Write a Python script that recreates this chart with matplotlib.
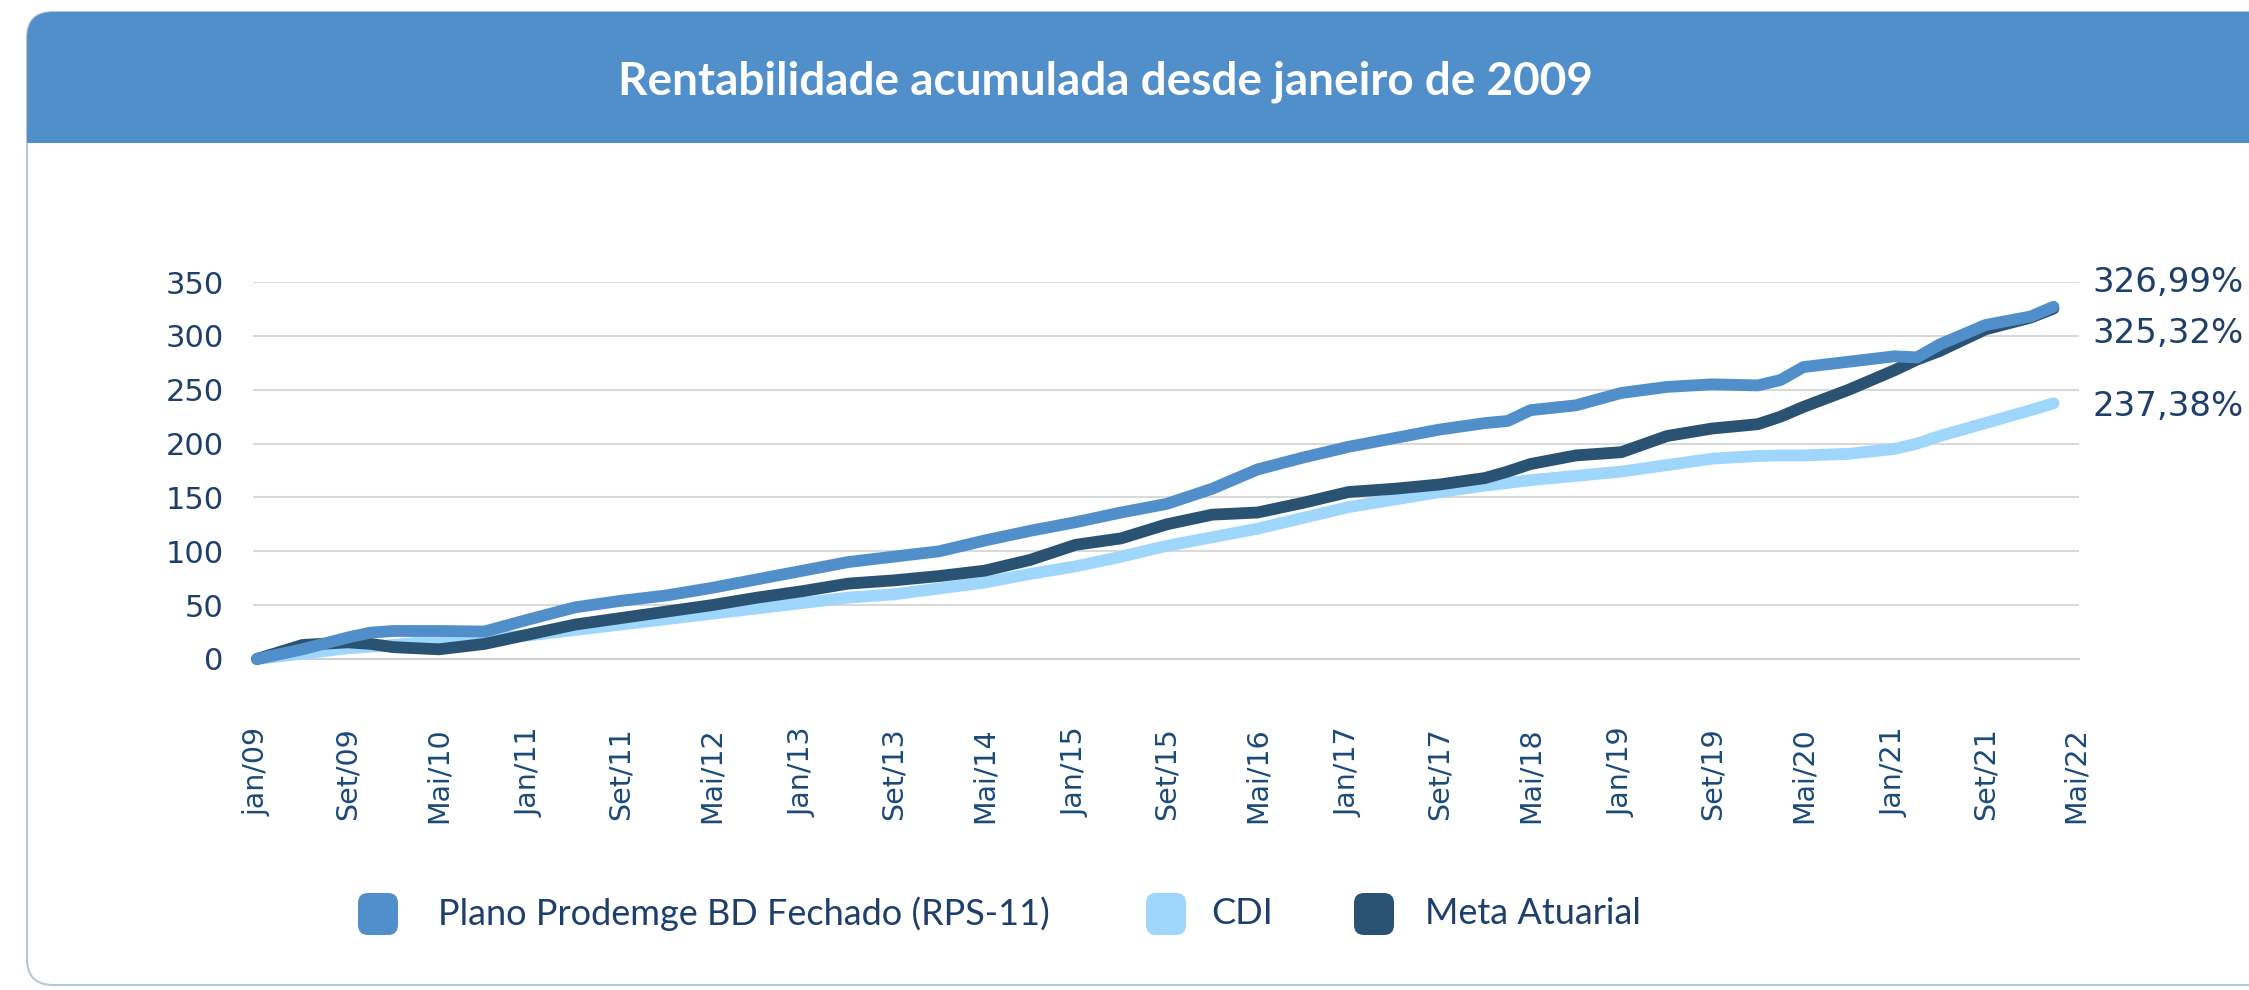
import matplotlib
matplotlib.use("Agg")
import matplotlib.pyplot as plt
from matplotlib.patches import FancyBboxPatch, Rectangle
from matplotlib.transforms import IdentityTransform

# months since jan/09
months = [0, 4, 8, 10, 12, 16, 20, 24, 28, 32, 36, 40, 44, 48, 52, 56, 60, 64, 68, 72, 76,
          80, 84, 88, 92, 96, 100, 104, 108, 110, 112, 116, 120, 124, 128, 132, 134, 136,
          140, 144, 146, 148, 152, 156, 158]

plano = [0, 9, 20, 24.5, 26, 26, 25.5, 37, 48, 54, 59, 66, 74, 82, 90, 95, 100, 110, 119,
         127, 136, 144, 158, 176, 187, 197, 205, 213, 219, 221, 231, 235.5, 247, 252.6, 255,
         254, 259, 271, 276, 281, 280, 292, 310, 318, 326.99]

cdi = [0, 5, 10, 11.5, 13, 17, 19, 22, 27, 32, 37, 42, 47, 52, 57, 60, 65.5, 71, 79, 86, 95,
       105, 113, 121, 131, 141, 148, 155, 161, 163.5, 166, 170, 174, 180, 186, 188.5, 189,
       189, 190.5, 195, 200, 207, 219, 231, 237.38]

meta = [0, 13, 15.5, 14, 11, 9, 14, 23, 32, 38, 44, 50, 57, 63, 70, 73, 77, 82, 92, 106, 112,
        125, 134, 136, 145, 155, 158, 162, 168, 174, 181, 189, 192, 207, 214, 218, 225, 234,
        250, 268, 278, 286, 306, 317, 325.32]

tick_months = list(range(0, 161, 8))
tick_labels = ["jan/09", "Set/09", "Mai/10", "Jan/11", "Set/11", "Mai/12", "Jan/13",
               "Set/13", "Mai/14", "Jan/15", "Set/15", "Mai/16", "Jan/17", "Set/17",
               "Mai/18", "Jan/19", "Set/19", "Mai/20", "Jan/21", "Set/21", "Mai/22"]
y_ticks = [0, 50, 100, 150, 200, 250, 300, 350]

names = ["Plano Prodemge BD Fechado (RPS-11)", "CDI", "Meta Atuarial"]

C_PLANO = "#518fcb"
C_CDI = "#9fd6fb"
C_META = "#2a5373"
C_TEXT = "#1e3f6c"
C_XTICK = "#1b4a78"

W, H = 2249, 990
fig = plt.figure(figsize=(W / 100, H / 100), dpi=100)
px = IdentityTransform()

# card + header band
card = FancyBboxPatch((27, 5), 2400, 973, boxstyle="round,pad=0,rounding_size=26",
                      transform=px, fc="white", ec="#b9c6d6", lw=1.5, zorder=-10)
fig.add_artist(card)
head = FancyBboxPatch((27, H - 143), 2400, 131, boxstyle="round,pad=0,rounding_size=26",
                      transform=px, fc=C_PLANO, ec="none", zorder=-9)
fig.add_artist(head)
fig.add_artist(Rectangle((27, H - 143), 100, 40, transform=px, fc=C_PLANO, ec="none", zorder=-9))
fig.text(1105 / W, 1 - 82 / H, "Rentabilidade acumulada desde janeiro de 2009",
         ha="center", va="center", color="white", fontsize=33, fontweight="bold",
         family="Lato")

ax = fig.add_axes([253 / W, (H - 659) / H, (2078.5 - 253) / W, (659 - 282) / H])
ax.set_facecolor("none")

for vals, col, z in [(cdi, C_CDI, 3), (meta, C_META, 4), (plano, C_PLANO, 5)]:
    ax.plot(months, vals, color=col, lw=8.5, solid_capstyle="round",
            solid_joinstyle="round", clip_on=False, zorder=z)

ax.set_xlim(-0.35, 160.2)
ax.set_ylim(0, 350)
ax.set_xticks(tick_months)
ax.set_xticklabels(tick_labels, rotation=90, fontsize=20.5, color=C_XTICK)
ax.set_yticks(y_ticks)
ax.set_yticklabels([str(v) for v in y_ticks], fontsize=22, color=C_TEXT)
ax.tick_params(axis="x", length=0, pad=49)
ax.tick_params(axis="y", length=0, pad=21)
ax.yaxis.grid(True, color="#d9d9d9", lw=1.5)
ax.set_axisbelow(True)
for s in ["top", "right", "left"]:
    ax.spines[s].set_visible(False)
ax.spines["bottom"].set_color("#d0d0d0")
ax.spines["bottom"].set_linewidth(1.5)

# end labels
for val, ypos in zip([plano[-1], meta[-1], cdi[-1]], [350, 302, 234]):
    ax.text(161.4, ypos, ("%.2f%%" % val).replace(".", ","), ha="left", va="center",
            fontsize=24.5, color=C_TEXT, clip_on=False)

# legend
leg_marker_x = [358, 1146, 1354]
leg_text_x = [438, 1211, 1425]
for name, col, mx, tx in zip(names, [C_PLANO, C_CDI, C_META], leg_marker_x, leg_text_x):
    fig.add_artist(FancyBboxPatch((mx, H - 935), 40, 42, boxstyle="round,pad=0,rounding_size=10",
                                  transform=px, fc=col, ec="none"))
    fig.text(tx / W, 1 - 914 / H, name, ha="left", va="center", fontsize=26,
             color=C_TEXT, family="Lato")

fig.savefig("out.png", dpi=100)
